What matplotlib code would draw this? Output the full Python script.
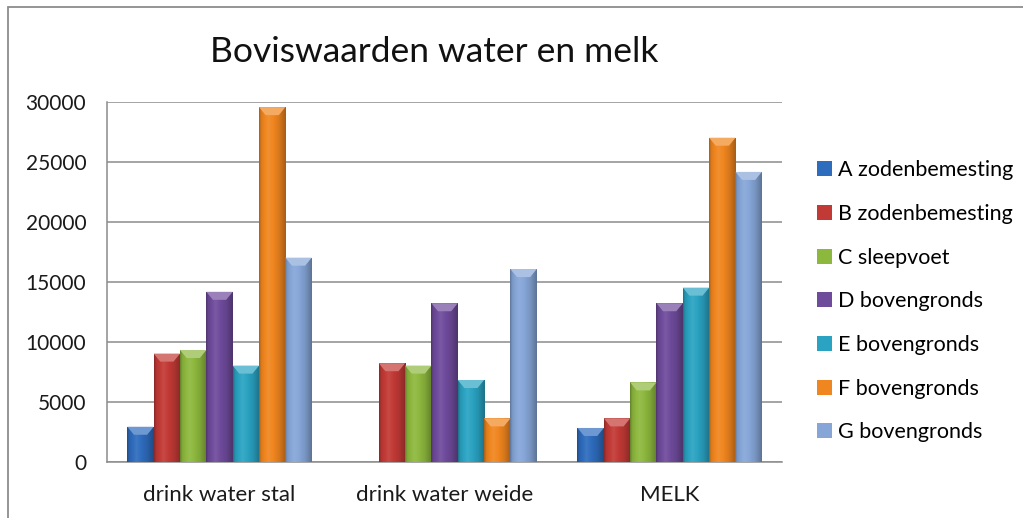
import numpy as np
import matplotlib
matplotlib.use('Agg')
import matplotlib.pyplot as plt
from matplotlib.patches import Rectangle, Polygon
from matplotlib.colors import to_rgb

# Data
categories = ['drink water stal', 'drink water weide', 'MELK']
series = ['A zodenbemesting', 'B zodenbemesting', 'C sleepvoet', 'D bovengronds',
          'E bovengronds', 'F bovengronds', 'G bovengronds']
A = [2900, 0, 2800]
B = [9000, 8200, 3600]
C = [9300, 8000, 6600]
D = [14150, 13200, 13200]
E = [8000, 6800, 14500]
F = [29550, 3600, 27000]
G = [17000, 16050, 24150]
values = [A, B, C, D, E, F, G]
colors = ['#2e6cbd', '#c23a36', '#8db83e', '#6f4b9c', '#2aa3c2', '#f0861f', '#86a6d8']
yticks = [0, 5000, 10000, 15000, 20000, 25000, 30000]

plt.rcParams['font.family'] = ['Lato', 'DejaVu Sans']

fig = plt.figure(figsize=(10.23, 5.18), dpi=100)
ax = fig.add_axes([0.1046, 0.109, 0.66, 0.6946])

# chart border (top and left visible)
fig.patches.append(Rectangle((0.008, -0.05), 1.1, 0.05 + 0.9865, transform=fig.transFigure,
                             fill=False, edgecolor='#8c8c8c', linewidth=1.3))

x = np.arange(len(categories))
w = 0.117
bev = 8 / 359 * 30000

def shade(rgb, f):
    rgb = np.array(rgb)
    if f >= 1:
        return rgb + (1 - rgb) * (f - 1)
    return rgb * f

for i, (vals, col) in enumerate(zip(values, colors)):
    pos = x + (i - 3) * w
    bars = ax.bar(pos, vals, width=w, color=col, label=series[i], zorder=2,
                  edgecolor='none')
    base = to_rgb(col)
    # horizontal gradient to mimic the rounded Excel bars
    t = np.linspace(0, 1, 40)
    prof = np.interp(t, [0, 0.08, 0.35, 0.75, 1], [0.72, 0.92, 1.08, 0.9, 0.7])
    img = np.array([[shade(base, f) for f in prof]])
    img = np.clip(img, 0, 1)
    for b in bars:
        h = b.get_height()
        if h <= 0:
            continue
        x0 = b.get_x()
        x1 = x0 + b.get_width()
        ax.imshow(img, extent=[x0, x1, 0, h], aspect='auto', zorder=3,
                  interpolation='bilinear')
        top = Polygon([[x0, h], [x1, h], [x1 - 0.25 * w, h - bev], [x0 + 0.25 * w, h - bev]],
                      closed=True, facecolor=shade(base, 1.3), edgecolor='none', zorder=4)
        ax.add_patch(top)

ax.set_xlim(-0.5, 2.5)
ax.set_ylim(0, 30000)
ax.set_yticks(yticks)
ax.set_yticklabels([str(v) for v in yticks])
ax.set_xticks(x)
ax.set_xticklabels(categories, fontsize=16)
ax.tick_params(axis='both', length=0, colors='#1a1a1a')
ax.tick_params(axis='y', labelsize=15, pad=15)
ax.tick_params(axis='x', pad=17)
ax.grid(axis='y', color='#8c8c8c', linewidth=1.1, zorder=0)
ax.set_axisbelow(True)
for s in ['top', 'right']:
    ax.spines[s].set_visible(False)
for s in ['left', 'bottom']:
    ax.spines[s].set_color('#8c8c8c')
    ax.spines[s].set_linewidth(1.1)

fig.text(0.424, 0.9, 'Boviswaarden water en melk', ha='center', va='center',
         fontsize=25.5, color='#111111')

leg = fig.legend(loc='upper left', bbox_to_anchor=(0.79, 0.707), frameon=False,
                 fontsize=15.5, handlelength=0.7, handleheight=0.7, handletextpad=0.3,
                 labelspacing=1.1, borderaxespad=0)

fig.savefig('out.png', dpi=100)
